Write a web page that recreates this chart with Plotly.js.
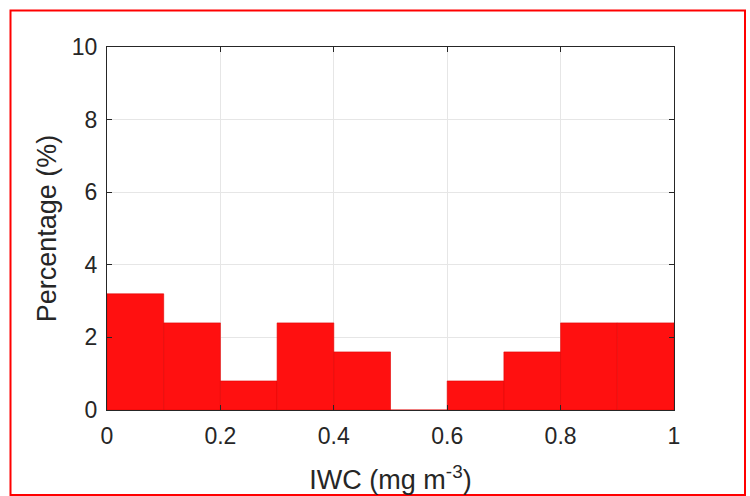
<!DOCTYPE html>
<html>
<head>
<meta charset="utf-8">
<script src="https://cdn.plot.ly/plotly-3.0.1.min.js"></script>
<style>html,body{margin:0;padding:0;background:#fff;}#chart{width:750px;height:496px;}</style>
</head>
<body>
<div id="chart"></div>
<script>
const binCenters = [0.05, 0.15, 0.25, 0.35, 0.45, 0.55, 0.65, 0.75, 0.85, 0.95];
const percentages = [3.2, 2.4, 0.8, 2.4, 1.6, 0, 0.8, 1.6, 2.4, 2.4];
const xTicks = [0, 0.2, 0.4, 0.6, 0.8, 1];
const xTickLabels = ['0', '0.2', '0.4', '0.6', '0.8', '1'];
const yTicks = [0, 2, 4, 6, 8, 10];

const trace = {
  type: 'bar',
  x: binCenters,
  y: percentages,
  width: 0.1,
  marker: {color: '#ff1010', line: {color: '#e00000', width: 0.6}},
  hoverinfo: 'x+y'
};

const fam = 'Liberation Sans, Arial, sans-serif';
const axisFont = {family: fam, size: 23, color: '#262626'};

const layout = {
  width: 750, height: 496,
  margin: {l: 107, r: 76, t: 47, b: 86, pad: 0},
  paper_bgcolor: '#ffffff',
  plot_bgcolor: '#ffffff',
  showlegend: false,
  bargap: 0,
  xaxis: {
    range: [0, 1],
    tickvals: xTicks, ticktext: xTickLabels,
    ticks: 'inside', ticklen: 5, tickwidth: 1, tickcolor: '#262626',
    ticklabelstandoff: 5,
    showline: true, linecolor: '#262626', linewidth: 1, mirror: 'ticks',
    showgrid: true, gridcolor: '#e6e6e6', gridwidth: 1,
    zeroline: false,
    tickfont: axisFont,
    title: {text: 'IWC (mg m<sup>-3</sup>)', font: {family: fam, size: 27, color: '#262626'}, standoff: 22}
  },
  yaxis: {
    range: [0, 10],
    tickvals: yTicks,
    ticks: 'inside', ticklen: 5, tickwidth: 1, tickcolor: '#262626',
    ticklabelstandoff: 4,
    showline: true, linecolor: '#262626', linewidth: 1, mirror: 'ticks',
    showgrid: true, gridcolor: '#e6e6e6', gridwidth: 1,
    zeroline: false,
    tickfont: axisFont,
    title: {text: 'Percentage (%)', font: {family: fam, size: 27, color: '#262626'}, standoff: 7}
  },
  shapes: [{
    type: 'rect', xref: 'paper', yref: 'paper',
    x0: (10.5 - 107) / 567, x1: (745 - 107) / 567,
    y0: (410 - 495) / 363, y1: (410 - 10.5) / 363,
    line: {color: '#ff0000', width: 2}, fillcolor: 'rgba(0,0,0,0)', layer: 'above'
  }]
};

Plotly.newPlot('chart', [trace], layout, {displayModeBar: false, staticPlot: true});
</script>
</body>
</html>
